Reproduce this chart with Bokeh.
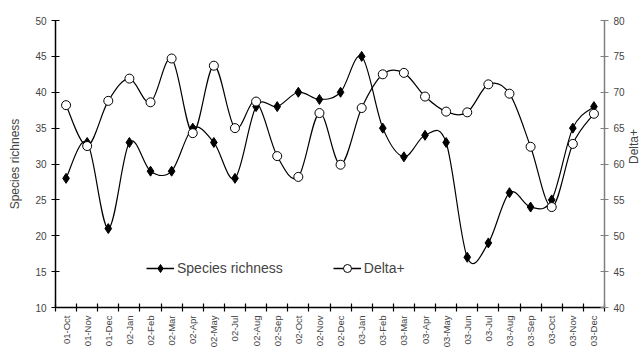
import math
from bokeh.plotting import figure
from bokeh.models import (Range1d, LinearAxis, FixedTicker, Legend, LegendItem,
                          ColumnDataSource)
from bokeh.embed import file_html
from bokeh.resources import INLINE

months = ["01-Oct", "01-Nov", "01-Dec", "02-Jan", "02-Feb", "02-Mar", "02-Apr",
          "02-May", "02-Jul", "02-Aug", "02-Sep", "02-Oct", "02-Nov", "02-Dec",
          "03-Jan", "03-Feb", "03-Mar", "03-Apr", "03-May", "03-Jun", "03-Jul",
          "03-Aug", "03-Sep", "03-Oct", "03-Nov", "03-Dec"]
species_richness = [28, 33, 21, 33, 29, 29, 35, 33, 28, 38, 38, 40, 39, 40, 45,
                    35, 31, 34, 33, 17, 19, 26, 24, 25, 35, 38]
delta_plus = [68.2, 62.5, 68.8, 71.9, 68.6, 74.7, 64.3, 73.7, 65.0, 68.7, 61.1,
              58.2, 67.1, 59.9, 67.8, 72.5, 72.7, 69.4, 67.3, 67.2, 71.1, 69.8,
              62.4, 54.0, 62.8, 67.0]
left_ticks = [10, 15, 20, 25, 30, 35, 40, 45, 50]
right_ticks = [40, 45, 50, 55, 60, 65, 70, 75, 80]

FONT = "Liberation Sans"
n = len(months)
xs = [i + 0.5 for i in range(n)]


def smooth(x, y):
    """Excel-like smoothed line as cubic Bezier segments."""
    d = dict(x0=[], y0=[], x1=[], y1=[], cx0=[], cy0=[], cx1=[], cy1=[])
    m = len(x)
    for i in range(m - 1):
        pm = max(i - 1, 0)
        pn = min(i + 2, m - 1)
        d["x0"].append(x[i]); d["y0"].append(y[i])
        d["x1"].append(x[i + 1]); d["y1"].append(y[i + 1])
        d["cx0"].append(x[i] + (x[i + 1] - x[pm]) / 6)
        d["cy0"].append(y[i] + (y[i + 1] - y[pm]) / 6)
        d["cx1"].append(x[i + 1] - (x[pn] - x[i]) / 6)
        d["cy1"].append(y[i + 1] - (y[pn] - y[i]) / 6)
    return ColumnDataSource(d)


p = figure(frame_width=549, frame_height=287, output_backend="svg",
           toolbar_location=None, x_range=Range1d(0, n),
           y_range=Range1d(left_ticks[0], left_ticks[-1]),
           min_border_left=55, min_border_right=30, min_border_top=20,
           min_border_bottom=4, x_axis_type=None, y_axis_type=None)
p.extra_y_ranges = {"d": Range1d(right_ticks[0], right_ticks[-1])}
p.outline_line_color = None
p.xgrid.visible = False
p.ygrid.visible = False
p.background_fill_color = "white"

# x axis
xax = LinearAxis(ticker=FixedTicker(ticks=xs, minor_ticks=list(range(n + 1))))
xax.major_label_overrides = {x: lab for x, lab in zip(xs, months)}
xax.major_label_orientation = math.pi / 2
xax.major_tick_line_color = None
xax.minor_tick_in = 4
xax.minor_tick_out = 4
xax.minor_tick_line_color = "black"
xax.minor_tick_line_width = 1.2
xax.axis_line_color = "black"
xax.axis_line_width = 1.5
xax.major_label_text_font = FONT
xax.major_label_text_font_size = "9.5px"
xax.major_label_standoff = 2
p.add_layout(xax, "below")

# left axis
lax = LinearAxis(ticker=FixedTicker(ticks=left_ticks), axis_label="Species richness")
lax.major_tick_in = 4
lax.major_tick_out = 4
lax.major_tick_line_width = 1.2
lax.major_tick_line_color = "black"
lax.minor_tick_line_color = None
lax.axis_line_color = "black"
lax.axis_line_width = 1.5
lax.major_label_text_font = FONT
lax.major_label_text_font_size = "10px"
lax.axis_label_text_font = FONT
lax.axis_label_text_font_size = "12px"
lax.axis_label_text_font_style = "normal"
lax.axis_label_standoff = 10
p.add_layout(lax, "left")

# right axis
rax = LinearAxis(ticker=FixedTicker(ticks=right_ticks), y_range_name="d",
                 axis_label="Delta+")
rax.major_tick_in = 4
rax.major_tick_out = 4
rax.major_tick_line_width = 1.2
rax.minor_tick_line_color = None
rax.axis_line_color = "#808080"
rax.major_tick_line_color = "#808080"
rax.axis_line_width = 1.5
rax.major_label_text_font = FONT
rax.major_label_text_font_size = "10px"
rax.axis_label_text_font = FONT
rax.axis_label_text_font_size = "12px"
rax.axis_label_text_font_style = "normal"
rax.axis_label_standoff = 6
rax.axis_label_orientation = math.pi / 2
p.add_layout(rax, "right")

# Species richness
p.bezier(x0="x0", y0="y0", x1="x1", y1="y1", cx0="cx0", cy0="cy0", cx1="cx1",
         cy1="cy1", source=smooth(xs, species_richness), line_color="black",
         line_width=1.2)
sr = p.scatter(xs, species_richness, marker="diamond", size=10,
               fill_color="black", line_color="black")

# Delta+
p.bezier(x0="x0", y0="y0", x1="x1", y1="y1", cx0="cx0", cy0="cy0", cx1="cx1",
         cy1="cy1", source=smooth(xs, delta_plus), line_color="black",
         line_width=1.2, y_range_name="d")
dp = p.scatter(xs, delta_plus, marker="circle", size=9, fill_color="white",
               line_color="black", line_width=1, y_range_name="d")

nan = float("nan")
l1 = p.line(x=[nan], y=[nan], line_color="black", line_width=1.5)
l2 = p.line(x=[nan], y=[nan], line_color="black", line_width=1.5)
legend = Legend(items=[LegendItem(label="Species richness", renderers=[l1, sr]),
                       LegendItem(label="Delta+", renderers=[l2, dp])],
                orientation="horizontal", location=(91, 29),
                border_line_color=None, background_fill_alpha=0,
                label_text_font=FONT, label_text_font_size="14px",
                glyph_width=28, spacing=50, padding=0, margin=0,
                label_standoff=3)
p.add_layout(legend, "center")

open("out.html", "w").write(file_html(p, INLINE))
